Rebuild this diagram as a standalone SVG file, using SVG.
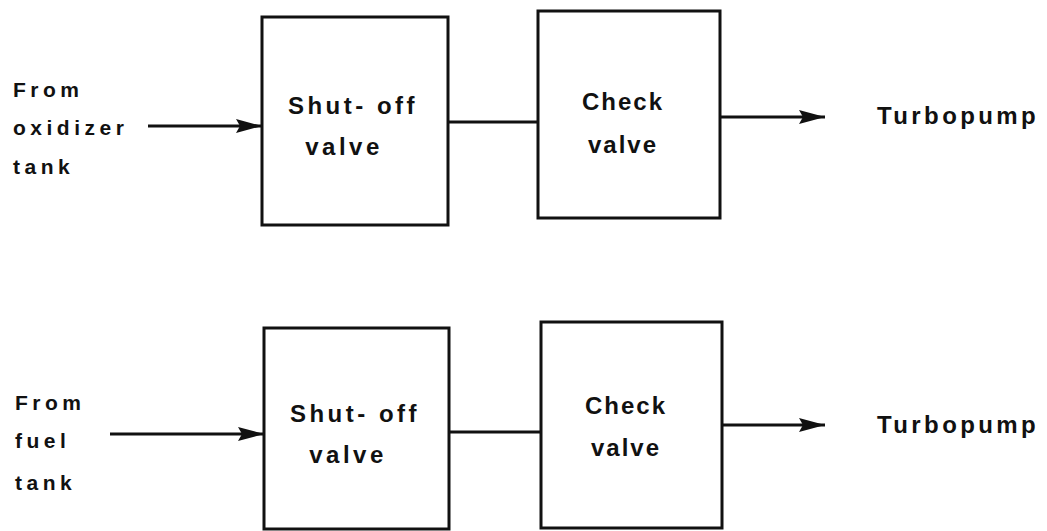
<svg xmlns="http://www.w3.org/2000/svg" width="1047" height="531" viewBox="0 0 1047 531">
  <style>
    .box { fill: none; stroke: #111; stroke-width: 3; }
    .line { fill: none; stroke: #111; stroke-width: 3; }
    .lbl { font-family: "Liberation Sans", Arial, sans-serif; font-weight: bold; fill: #111; }
    .side { font-size: 21px; letter-spacing: 4.5px; }
    .inbox { font-size: 24px; letter-spacing: 3.5px; text-anchor: middle; }
    .pump { font-size: 24px; letter-spacing: 3.4px; }
  </style>
  <defs>
    <marker id="arrow" viewBox="0 0 26 14" refX="26" refY="7" markerWidth="26" markerHeight="14" markerUnits="userSpaceOnUse" orient="auto">
      <path d="M0,0 L26,7 L0,14 L4,7 Z" fill="#111"/>
    </marker>
  </defs>
  <rect width="1047" height="531" fill="#fff"/>

  <!-- Oxidizer feed -->
  <g id="ox-source">
    <text class="lbl side" x="13" y="97">From</text>
    <text class="lbl side" x="13" y="135">oxidizer</text>
    <text class="lbl side" x="13" y="174">tank</text>
  </g>
  <g id="ox-shutoff">
    <rect class="box" x="262" y="17" width="186" height="208"/>
    <text class="lbl inbox" x="353" y="114">Shut- off</text>
    <text class="lbl inbox" x="344" y="155">valve</text>
  </g>
  <g id="ox-check">
    <rect class="box" x="538" y="11" width="182" height="207"/>
    <text class="lbl inbox" x="623" y="110" style="letter-spacing:2px">Check</text>
    <text class="lbl inbox" x="623" y="153" style="letter-spacing:2px">valve</text>
  </g>
  <g id="ox-pump">
    <text class="lbl pump" x="877" y="124">Turbopump</text>
  </g>

  <!-- Fuel feed -->
  <g id="fuel-source">
    <text class="lbl side" x="15" y="410">From</text>
    <text class="lbl side" x="15" y="448">fuel</text>
    <text class="lbl side" x="15" y="490">tank</text>
  </g>
  <g id="fuel-shutoff">
    <rect class="box" x="264" y="328" width="185" height="201"/>
    <text class="lbl inbox" x="355" y="422">Shut- off</text>
    <text class="lbl inbox" x="348" y="463">valve</text>
  </g>
  <g id="fuel-check">
    <rect class="box" x="541" y="322" width="181" height="206"/>
    <text class="lbl inbox" x="626" y="414" style="letter-spacing:2px">Check</text>
    <text class="lbl inbox" x="626" y="456" style="letter-spacing:2px">valve</text>
  </g>
  <g id="fuel-pump">
    <text class="lbl pump" x="877" y="433">Turbopump</text>
  </g>

  <g id="connectors">
    <line class="line" x1="148" y1="126" x2="262" y2="126" marker-end="url(#arrow)"/>
    <line class="line" x1="448" y1="122" x2="538" y2="122"/>
    <line class="line" x1="720" y1="117" x2="825" y2="117" marker-end="url(#arrow)"/>

    <line class="line" x1="110" y1="434" x2="264" y2="434" marker-end="url(#arrow)"/>
    <line class="line" x1="449" y1="432" x2="541" y2="432"/>
    <line class="line" x1="722" y1="425" x2="825" y2="425" marker-end="url(#arrow)"/>
  </g>
</svg>
